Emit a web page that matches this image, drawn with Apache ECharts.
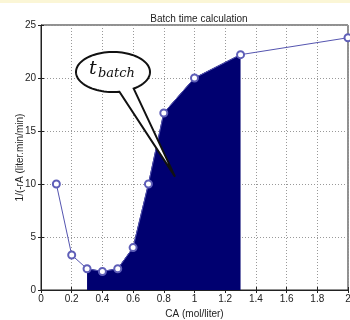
<!DOCTYPE html>
<html>
<head>
<meta charset="utf-8">
<script src="https://cdn.jsdelivr.net/npm/echarts@6/dist/echarts.min.js"></script>
<style>
  html, body { margin: 0; padding: 0; background: #fff; }
  #chart { width: 350px; height: 320px; }
</style>
</head>
<body>
<div id="chart"></div>
<script>
// concentration CA (mol/liter) and 1/(-rA)
const ca = [0.1, 0.2, 0.3, 0.4, 0.5, 0.6, 0.7, 0.8, 1.0, 1.3, 2.0]
const invRate = [10, 3.3, 2.0, 1.75, 2.0, 4.0, 10, 16.7, 20, 22.2, 23.8]
// integration limits for the shaded batch time area
const caStart = 0.3
const caEnd = 1.3

const linePoints = ca.map((x, i) => [x, invRate[i]])
const areaPoints = linePoints.filter(p => p[0] >= caStart && p[0] <= caEnd)

const axisFont = { fontFamily: 'Liberation Sans', fontSize: 10, color: '#222' }
const gridLine = { show: true, lineStyle: { color: '#999', type: [1, 2], width: 1 } }

const chart = echarts.init(document.getElementById('chart'))

const option = {
  backgroundColor: '#fff',
  animation: false,
  title: {
    text: 'Batch time calculation',
    left: 194,
    top: 9,
    textAlign: 'center',
    textStyle: { ...axisFont, fontWeight: 'normal' }
  },
  grid: {
    left: 41, right: 2, top: 25, bottom: 30,
    outerBoundsMode: 'none',
    containLabel: false,
    show: true, borderColor: '#222', borderWidth: 1
  },
  xAxis: [{
    type: 'value',
    min: 0, max: 2, interval: 0.2,
    name: 'CA (mol/liter)',
    nameLocation: 'middle',
    nameGap: 17,
    nameTextStyle: axisFont,
    axisLine: { lineStyle: { color: '#222' } },
    axisTick: { inside: true, length: 3, lineStyle: { color: '#222' } },
    axisLabel: { ...axisFont, margin: 4, formatter: v => +v.toFixed(1) + '' },
    splitLine: gridLine
  }, {
    type: 'value', position: 'top',
    min: 0, max: 2, interval: 0.2,
    axisLine: { show: false },
    axisTick: { inside: true, length: 3, lineStyle: { color: '#222' } },
    axisLabel: { show: false },
    splitLine: { show: false }
  }],
  yAxis: [{
    type: 'value',
    min: 0, max: 25, interval: 5,
    name: '1/(-rA (liter.min/min)',
    nameLocation: 'middle',
    nameGap: 16,
    nameMoveOverlap: false,
    nameTextStyle: axisFont,
    axisLine: { show: true, lineStyle: { color: '#222' } },
    axisTick: { show: true, inside: true, length: 3, lineStyle: { color: '#222' } },
    axisLabel: { ...axisFont, margin: 5 },
    splitLine: gridLine
  }, {
    type: 'value', position: 'right',
    min: 0, max: 25, interval: 5,
    axisLine: { show: false },
    axisTick: { show: true, inside: true, length: 3, lineStyle: { color: '#222' } },
    axisLabel: { show: false },
    splitLine: { show: false }
  }],
  series: [
    {
      type: 'line',
      data: areaPoints,
      symbol: 'none',
      lineStyle: { color: '#000070', width: 1 },
      areaStyle: { color: '#000070', opacity: 1 },
      z: 2
    },
    {
      type: 'line',
      data: linePoints,
      symbol: 'emptyCircle',
      symbolSize: 7,
      lineStyle: { color: '#5555b0', width: 1 },
      itemStyle: { color: '#5f5fb8', borderWidth: 1 },
      z: 3
    }
  ]
}

chart.setOption(option)

// speech bubble pointing into the shaded area
const tip = chart.convertToPixel({ xAxisIndex: 0, yAxisIndex: 0 }, [0.873, 10.7])
const cx = 113, cy = 72, rx = 37, ry = 20
const bubble = []
for (let a = 80; a <= 360 + 57; a += 4) {
  const t = a * Math.PI / 180
  bubble.push([cx + rx * Math.cos(t), cy + ry * Math.sin(t)])
}
bubble.push(tip)

chart.setOption({
  graphic: [
    { type: 'rect', shape: { x: 0, y: 0, width: 350, height: 3 }, style: { fill: '#fbf6d6' }, z: 10 },
    {
      type: 'polygon',
      shape: { points: bubble },
      style: { fill: '#fff', stroke: '#111', lineWidth: 2 },
      z: 20
    },
    {
      type: 'text', left: 89, top: 60,
      style: { text: 't', font: 'italic 19px "DejaVu Serif"', fill: '#111' },
      z: 21
    },
    {
      type: 'text', left: 98, top: 67,
      style: { text: 'batch', font: 'italic 13px "DejaVu Serif"', fill: '#111' },
      z: 21
    }
  ]
})
</script>
</body>
</html>
